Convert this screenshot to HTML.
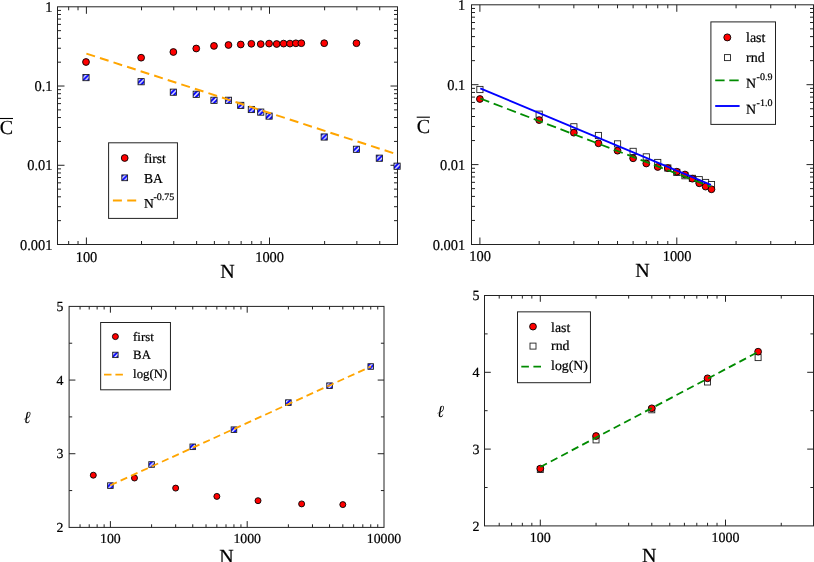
<!DOCTYPE html><html><head><meta charset="utf-8"><style>html,body{margin:0;padding:0;background:#fff;overflow:hidden}svg{display:block}text{font-family:"Liberation Serif",serif;fill:#000;stroke:#000;stroke-width:0.22px;text-rendering:geometricPrecision}svg{transform:translateZ(0)}</style></head><body>
<svg width="814" height="562" viewBox="0 0 814 562">
<defs><pattern id="hp1" patternUnits="userSpaceOnUse" width="4.8" height="4.8"><rect width="4.8" height="4.8" fill="#00f"/><path d="M-0.20 -2L-2 -0.20M4.60 -2L-2 4.60M9.40 -2L-2 9.40M14.20 -2L-2 14.20" stroke="#fff" stroke-width="1.3"/></pattern><pattern id="hp3" patternUnits="userSpaceOnUse" width="4.8" height="4.8"><rect width="4.8" height="4.8" fill="#00f"/><path d="M-1.10 -2L-2 -1.10M3.70 -2L-2 3.70M8.50 -2L-2 8.50M13.30 -2L-2 13.30" stroke="#fff" stroke-width="1.3"/></pattern></defs>
<rect x="57.5" y="6.8" width="340" height="237.7" fill="none" stroke="#222" stroke-width="1.0"/>
<path d="M86.4 244.5v-7M86.4 6.8v7M269.5 244.5v-7M269.5 6.8v7M68.66 244.5v-3.5M68.66 6.8v3.5M78.02 244.5v-3.5M78.02 6.8v3.5M141.52 244.5v-3.5M141.52 6.8v3.5M173.76 244.5v-3.5M173.76 6.8v3.5M196.64 244.5v-3.5M196.64 6.8v3.5M214.38 244.5v-3.5M214.38 6.8v3.5M228.88 244.5v-3.5M228.88 6.8v3.5M241.14 244.5v-3.5M241.14 6.8v3.5M251.76 244.5v-3.5M251.76 6.8v3.5M261.12 244.5v-3.5M261.12 6.8v3.5M324.62 244.5v-3.5M324.62 6.8v3.5M356.86 244.5v-3.5M356.86 6.8v3.5M379.74 244.5v-3.5M379.74 6.8v3.5" stroke="#222" stroke-width="1.0" fill="none"/>
<path d="M57.5 86.03h7M397.5 86.03h-7M57.5 165.27h7M397.5 165.27h-7M57.5 220.65h3.5M397.5 220.65h-3.5M57.5 206.7h3.5M397.5 206.7h-3.5M57.5 196.8h3.5M397.5 196.8h-3.5M57.5 189.12h3.5M397.5 189.12h-3.5M57.5 182.84h3.5M397.5 182.84h-3.5M57.5 177.54h3.5M397.5 177.54h-3.5M57.5 172.95h3.5M397.5 172.95h-3.5M57.5 168.89h3.5M397.5 168.89h-3.5M57.5 141.42h3.5M397.5 141.42h-3.5M57.5 127.46h3.5M397.5 127.46h-3.5M57.5 117.56h3.5M397.5 117.56h-3.5M57.5 109.88h3.5M397.5 109.88h-3.5M57.5 103.61h3.5M397.5 103.61h-3.5M57.5 98.31h3.5M397.5 98.31h-3.5M57.5 93.71h3.5M397.5 93.71h-3.5M57.5 89.66h3.5M397.5 89.66h-3.5M57.5 62.18h3.5M397.5 62.18h-3.5M57.5 48.23h3.5M397.5 48.23h-3.5M57.5 38.33h3.5M397.5 38.33h-3.5M57.5 30.65h3.5M397.5 30.65h-3.5M57.5 24.38h3.5M397.5 24.38h-3.5M57.5 19.07h3.5M397.5 19.07h-3.5M57.5 14.48h3.5M397.5 14.48h-3.5M57.5 10.43h3.5M397.5 10.43h-3.5" stroke="#222" stroke-width="1.0" fill="none"/>
<text transform="translate(86.5 261.5) scale(0.97 1)" font-size="14.9" text-anchor="middle" >100</text>
<text transform="translate(269.6 261.5) scale(0.97 1)" font-size="14.9" text-anchor="middle" >1000</text>
<text transform="translate(52.5 11.9) scale(0.97 1)" font-size="14.9" text-anchor="end" >1</text>
<text transform="translate(52.5 91.13) scale(0.97 1)" font-size="14.9" text-anchor="end" >0.1</text>
<text transform="translate(52.5 170.37) scale(0.97 1)" font-size="14.9" text-anchor="end" >0.01</text>
<text transform="translate(52.5 249.6) scale(0.97 1)" font-size="14.9" text-anchor="end" >0.001</text>
<text x="227.6" y="277.8" font-size="20" text-anchor="middle" >N</text>
<text x="6.3" y="133.6" font-size="20" text-anchor="middle" >C</text>
<line x1="0" y1="118.5" x2="13" y2="118.5" stroke="#000" stroke-width="1.1"/>
<circle cx="86" cy="62" r="3.4" fill="#f00" stroke="#000" stroke-width="0.9"/>
<circle cx="141.12" cy="57.7" r="3.4" fill="#f00" stroke="#000" stroke-width="0.9"/>
<circle cx="173.36" cy="52" r="3.4" fill="#f00" stroke="#000" stroke-width="0.9"/>
<circle cx="196.24" cy="48.5" r="3.4" fill="#f00" stroke="#000" stroke-width="0.9"/>
<circle cx="213.98" cy="45.9" r="3.4" fill="#f00" stroke="#000" stroke-width="0.9"/>
<circle cx="228.48" cy="45" r="3.4" fill="#f00" stroke="#000" stroke-width="0.9"/>
<circle cx="240.74" cy="44.5" r="3.4" fill="#f00" stroke="#000" stroke-width="0.9"/>
<circle cx="251.36" cy="43.8" r="3.4" fill="#f00" stroke="#000" stroke-width="0.9"/>
<circle cx="260.72" cy="44.1" r="3.4" fill="#f00" stroke="#000" stroke-width="0.9"/>
<circle cx="269.1" cy="43.6" r="3.4" fill="#f00" stroke="#000" stroke-width="0.9"/>
<circle cx="276.68" cy="44" r="3.4" fill="#f00" stroke="#000" stroke-width="0.9"/>
<circle cx="283.6" cy="43.6" r="3.4" fill="#f00" stroke="#000" stroke-width="0.9"/>
<circle cx="289.96" cy="43.6" r="3.4" fill="#f00" stroke="#000" stroke-width="0.9"/>
<circle cx="295.86" cy="43.3" r="3.4" fill="#f00" stroke="#000" stroke-width="0.9"/>
<circle cx="301.34" cy="43.2" r="3.4" fill="#f00" stroke="#000" stroke-width="0.9"/>
<circle cx="324.22" cy="43.2" r="3.4" fill="#f00" stroke="#000" stroke-width="0.9"/>
<circle cx="356.46" cy="43.2" r="3.4" fill="#f00" stroke="#000" stroke-width="0.9"/>
<rect x="82.9" y="74.5" width="6.2" height="6.2" fill="url(#hp1)" stroke="#1a1a1a" stroke-width="0.85"/>
<rect x="138.02" y="78.6" width="6.2" height="6.2" fill="url(#hp1)" stroke="#1a1a1a" stroke-width="0.85"/>
<rect x="170.26" y="89.1" width="6.2" height="6.2" fill="url(#hp1)" stroke="#1a1a1a" stroke-width="0.85"/>
<rect x="193.14" y="91.2" width="6.2" height="6.2" fill="url(#hp1)" stroke="#1a1a1a" stroke-width="0.85"/>
<rect x="210.88" y="97.2" width="6.2" height="6.2" fill="url(#hp1)" stroke="#1a1a1a" stroke-width="0.85"/>
<rect x="225.38" y="97.2" width="6.2" height="6.2" fill="url(#hp1)" stroke="#1a1a1a" stroke-width="0.85"/>
<rect x="237.64" y="102.3" width="6.2" height="6.2" fill="url(#hp1)" stroke="#1a1a1a" stroke-width="0.85"/>
<rect x="248.26" y="106.4" width="6.2" height="6.2" fill="url(#hp1)" stroke="#1a1a1a" stroke-width="0.85"/>
<rect x="257.62" y="109" width="6.2" height="6.2" fill="url(#hp1)" stroke="#1a1a1a" stroke-width="0.85"/>
<rect x="266" y="113" width="6.2" height="6.2" fill="url(#hp1)" stroke="#1a1a1a" stroke-width="0.85"/>
<rect x="321.12" y="133.9" width="6.2" height="6.2" fill="url(#hp1)" stroke="#1a1a1a" stroke-width="0.85"/>
<rect x="353.36" y="146.2" width="6.2" height="6.2" fill="url(#hp1)" stroke="#1a1a1a" stroke-width="0.85"/>
<rect x="376.24" y="155.1" width="6.2" height="6.2" fill="url(#hp1)" stroke="#1a1a1a" stroke-width="0.85"/>
<rect x="393.98" y="163.1" width="6.2" height="6.2" fill="url(#hp1)" stroke="#1a1a1a" stroke-width="0.85"/>
<line x1="86.4" y1="53.6" x2="397" y2="154.3" stroke="#ffa500" stroke-width="2.0" stroke-dasharray="9.05 5.2"/>
<rect x="108.6" y="142.8" width="68.85" height="75.6" fill="#fff" stroke="#222" stroke-width="1"/>
<circle cx="124.7" cy="158" r="3.4" fill="#f00" stroke="#000" stroke-width="0.9"/>
<rect x="121.8" y="174.9" width="5.8" height="5.8" fill="url(#hp1)" stroke="#1a1a1a" stroke-width="0.85"/>
<line x1="112.9" y1="200.5" x2="136.3" y2="200.5" stroke="#ffa500" stroke-width="1.9" stroke-dasharray="9 5.3"/>
<text x="143.9" y="163" font-size="13.6" text-anchor="start" >first</text>
<text x="143.9" y="182.6" font-size="13.6" text-anchor="start" >BA</text>
<text x="143.9" y="208.4" font-size="13.6" text-anchor="start" >N</text>
<text x="153.5" y="200" font-size="10" text-anchor="start" >-0.75</text>
<rect x="471.5" y="4.8" width="342" height="239.7" fill="none" stroke="#222" stroke-width="1.0"/>
<path d="M479.9 244.5v-7M479.9 4.8v7M676.8 244.5v-7M676.8 4.8v7M539.17 244.5v-3.5M539.17 4.8v3.5M573.85 244.5v-3.5M573.85 4.8v3.5M598.45 244.5v-3.5M598.45 4.8v3.5M617.53 244.5v-3.5M617.53 4.8v3.5M633.12 244.5v-3.5M633.12 4.8v3.5M646.3 244.5v-3.5M646.3 4.8v3.5M657.72 244.5v-3.5M657.72 4.8v3.5M667.79 244.5v-3.5M667.79 4.8v3.5M736.07 244.5v-3.5M736.07 4.8v3.5M770.75 244.5v-3.5M770.75 4.8v3.5M795.35 244.5v-3.5M795.35 4.8v3.5" stroke="#222" stroke-width="1.0" fill="none"/>
<path d="M471.5 84.7h7M813.5 84.7h-7M471.5 164.6h7M813.5 164.6h-7M471.5 220.45h3.5M813.5 220.45h-3.5M471.5 206.38h3.5M813.5 206.38h-3.5M471.5 196.4h3.5M813.5 196.4h-3.5M471.5 188.65h3.5M813.5 188.65h-3.5M471.5 182.33h3.5M813.5 182.33h-3.5M471.5 176.98h3.5M813.5 176.98h-3.5M471.5 172.34h3.5M813.5 172.34h-3.5M471.5 168.26h3.5M813.5 168.26h-3.5M471.5 140.55h3.5M813.5 140.55h-3.5M471.5 126.48h3.5M813.5 126.48h-3.5M471.5 116.5h3.5M813.5 116.5h-3.5M471.5 108.75h3.5M813.5 108.75h-3.5M471.5 102.43h3.5M813.5 102.43h-3.5M471.5 97.08h3.5M813.5 97.08h-3.5M471.5 92.44h3.5M813.5 92.44h-3.5M471.5 88.36h3.5M813.5 88.36h-3.5M471.5 60.65h3.5M813.5 60.65h-3.5M471.5 46.58h3.5M813.5 46.58h-3.5M471.5 36.6h3.5M813.5 36.6h-3.5M471.5 28.85h3.5M813.5 28.85h-3.5M471.5 22.53h3.5M813.5 22.53h-3.5M471.5 17.18h3.5M813.5 17.18h-3.5M471.5 12.54h3.5M813.5 12.54h-3.5M471.5 8.46h3.5M813.5 8.46h-3.5" stroke="#222" stroke-width="1.0" fill="none"/>
<text transform="translate(480.2 261.2) scale(0.97 1)" font-size="14.9" text-anchor="middle" >100</text>
<text transform="translate(677.1 261.2) scale(0.97 1)" font-size="14.9" text-anchor="middle" >1000</text>
<text transform="translate(465.3 9.9) scale(0.97 1)" font-size="14.9" text-anchor="end" >1</text>
<text transform="translate(465.3 89.8) scale(0.97 1)" font-size="14.9" text-anchor="end" >0.1</text>
<text transform="translate(465.3 169.7) scale(0.97 1)" font-size="14.9" text-anchor="end" >0.01</text>
<text transform="translate(465.3 249.6) scale(0.97 1)" font-size="14.9" text-anchor="end" >0.001</text>
<text x="642.6" y="276.9" font-size="20" text-anchor="middle" >N</text>
<text x="423.3" y="132.6" font-size="20" text-anchor="middle" >C</text>
<line x1="416.7" y1="117.2" x2="429.9" y2="117.2" stroke="#000" stroke-width="1.1"/>
<rect x="476.8" y="86.4" width="6.2" height="6.2" fill="#fff" stroke="#222" stroke-width="0.9"/>
<rect x="536.07" y="111.1" width="6.2" height="6.2" fill="#fff" stroke="#222" stroke-width="0.9"/>
<rect x="570.75" y="123.7" width="6.2" height="6.2" fill="#fff" stroke="#222" stroke-width="0.9"/>
<rect x="595.35" y="132.4" width="6.2" height="6.2" fill="#fff" stroke="#222" stroke-width="0.9"/>
<rect x="614.43" y="140.8" width="6.2" height="6.2" fill="#fff" stroke="#222" stroke-width="0.9"/>
<rect x="630.02" y="148.3" width="6.2" height="6.2" fill="#fff" stroke="#222" stroke-width="0.9"/>
<rect x="643.2" y="153.8" width="6.2" height="6.2" fill="#fff" stroke="#222" stroke-width="0.9"/>
<rect x="654.62" y="159.4" width="6.2" height="6.2" fill="#fff" stroke="#222" stroke-width="0.9"/>
<rect x="664.69" y="164.9" width="6.2" height="6.2" fill="#fff" stroke="#222" stroke-width="0.9"/>
<rect x="673.7" y="169.3" width="6.2" height="6.2" fill="#fff" stroke="#222" stroke-width="0.9"/>
<rect x="681.85" y="172.6" width="6.2" height="6.2" fill="#fff" stroke="#222" stroke-width="0.9"/>
<rect x="689.29" y="175.3" width="6.2" height="6.2" fill="#fff" stroke="#222" stroke-width="0.9"/>
<rect x="696.14" y="176.6" width="6.2" height="6.2" fill="#fff" stroke="#222" stroke-width="0.9"/>
<rect x="702.47" y="179.4" width="6.2" height="6.2" fill="#fff" stroke="#222" stroke-width="0.9"/>
<rect x="708.37" y="181.5" width="6.2" height="6.2" fill="#fff" stroke="#222" stroke-width="0.9"/>
<circle cx="479.9" cy="99" r="3.4" fill="#f00" stroke="#000" stroke-width="0.9"/>
<circle cx="539.17" cy="120.1" r="3.4" fill="#f00" stroke="#000" stroke-width="0.9"/>
<circle cx="573.85" cy="132.7" r="3.4" fill="#f00" stroke="#000" stroke-width="0.9"/>
<circle cx="598.45" cy="143.3" r="3.4" fill="#f00" stroke="#000" stroke-width="0.9"/>
<circle cx="617.53" cy="150.7" r="3.4" fill="#f00" stroke="#000" stroke-width="0.9"/>
<circle cx="633.12" cy="158.3" r="3.4" fill="#f00" stroke="#000" stroke-width="0.9"/>
<circle cx="646.3" cy="163.5" r="3.4" fill="#f00" stroke="#000" stroke-width="0.9"/>
<circle cx="657.72" cy="167" r="3.4" fill="#f00" stroke="#000" stroke-width="0.9"/>
<circle cx="667.79" cy="168.1" r="3.4" fill="#f00" stroke="#000" stroke-width="0.9"/>
<circle cx="676.8" cy="171.7" r="3.4" fill="#f00" stroke="#000" stroke-width="0.9"/>
<circle cx="684.95" cy="174.5" r="3.4" fill="#f00" stroke="#000" stroke-width="0.9"/>
<circle cx="692.39" cy="178.7" r="3.4" fill="#f00" stroke="#000" stroke-width="0.9"/>
<circle cx="699.24" cy="183.3" r="3.4" fill="#f00" stroke="#000" stroke-width="0.9"/>
<circle cx="705.57" cy="186.6" r="3.4" fill="#f00" stroke="#000" stroke-width="0.9"/>
<circle cx="711.47" cy="189.3" r="3.4" fill="#f00" stroke="#000" stroke-width="0.9"/>
<line x1="480.3" y1="98.5" x2="710.9" y2="186.7" stroke="#008b00" stroke-width="1.8" stroke-dasharray="9.5 4.8"/>
<line x1="480.3" y1="88.4" x2="710.9" y2="184.9" stroke="#0000ff" stroke-width="1.9"/>
<rect x="710.9" y="21.9" width="64.6" height="102.5" fill="#fff" stroke="#222" stroke-width="1"/>
<circle cx="727.3" cy="37.4" r="3.5" fill="#f00" stroke="#000" stroke-width="0.9"/>
<rect x="724.5" y="54.6" width="6" height="6" fill="#fff" stroke="#222" stroke-width="0.9"/>
<line x1="715.2" y1="80.3" x2="738.9" y2="80.3" stroke="#008b00" stroke-width="1.8" stroke-dasharray="9.4 4.7"/>
<line x1="715.2" y1="106" x2="739.6" y2="106" stroke="#0000ff" stroke-width="1.9"/>
<text x="746" y="41.9" font-size="14" text-anchor="start" >last</text>
<text x="746" y="61.7" font-size="14" text-anchor="start" >rnd</text>
<text x="746" y="88.3" font-size="14" text-anchor="start" >N</text>
<text x="756.6" y="80.1" font-size="10" text-anchor="start" >-0.9</text>
<text x="746" y="113.9" font-size="14" text-anchor="start" >N</text>
<text x="756.6" y="105.8" font-size="10" text-anchor="start" >-1.0</text>
<rect x="69.1" y="306.4" width="314.9" height="221" fill="none" stroke="#222" stroke-width="1.0"/>
<path d="M110.4 527.4v-6.3M110.4 306.4v6.3M247.2 527.4v-6.3M247.2 306.4v6.3M80.05 527.4v-3.1M80.05 306.4v3.1M89.21 527.4v-3.1M89.21 306.4v3.1M97.14 527.4v-3.1M97.14 306.4v3.1M104.14 527.4v-3.1M104.14 306.4v3.1M151.58 527.4v-3.1M151.58 306.4v3.1M175.67 527.4v-3.1M175.67 306.4v3.1M192.76 527.4v-3.1M192.76 306.4v3.1M206.02 527.4v-3.1M206.02 306.4v3.1M216.85 527.4v-3.1M216.85 306.4v3.1M226.01 527.4v-3.1M226.01 306.4v3.1M233.94 527.4v-3.1M233.94 306.4v3.1M240.94 527.4v-3.1M240.94 306.4v3.1M288.38 527.4v-3.1M288.38 306.4v3.1M312.47 527.4v-3.1M312.47 306.4v3.1M329.56 527.4v-3.1M329.56 306.4v3.1M342.82 527.4v-3.1M342.82 306.4v3.1M353.65 527.4v-3.1M353.65 306.4v3.1M362.81 527.4v-3.1M362.81 306.4v3.1M370.74 527.4v-3.1M370.74 306.4v3.1M377.74 527.4v-3.1M377.74 306.4v3.1" stroke="#222" stroke-width="1.0" fill="none"/>
<path d="M69.1 453.73h6.3M384 453.73h-6.3M69.1 380.07h6.3M384 380.07h-6.3M69.1 490.57h3.1M384 490.57h-3.1M69.1 416.9h3.1M384 416.9h-3.1M69.1 343.23h3.1M384 343.23h-3.1" stroke="#222" stroke-width="1.0" fill="none"/>
<text x="110.4" y="542.8" font-size="13.8" text-anchor="middle" >100</text>
<text x="247.2" y="542.8" font-size="13.8" text-anchor="middle" >1000</text>
<text x="384" y="542.8" font-size="13.8" text-anchor="middle" >10000</text>
<text x="63.5" y="532.1" font-size="13.8" text-anchor="end" >2</text>
<text x="63.5" y="458.43" font-size="13.8" text-anchor="end" >3</text>
<text x="63.5" y="384.77" font-size="13.8" text-anchor="end" >4</text>
<text x="63.5" y="311.1" font-size="13.8" text-anchor="end" >5</text>
<text x="226.6" y="563.2" font-size="20" text-anchor="middle" >N</text>
<text x="27" y="423" font-size="17" text-anchor="middle" font-style="italic" style="stroke-width:0">&#8467;</text>
<circle cx="93.31" cy="475.2" r="3.0" fill="#f00" stroke="#000" stroke-width="0.9"/>
<circle cx="134.49" cy="478" r="3.0" fill="#f00" stroke="#000" stroke-width="0.9"/>
<circle cx="175.67" cy="488.1" r="3.0" fill="#f00" stroke="#000" stroke-width="0.9"/>
<circle cx="216.85" cy="496.4" r="3.0" fill="#f00" stroke="#000" stroke-width="0.9"/>
<circle cx="258.03" cy="500.7" r="3.0" fill="#f00" stroke="#000" stroke-width="0.9"/>
<circle cx="301.64" cy="503.9" r="3.0" fill="#f00" stroke="#000" stroke-width="0.9"/>
<circle cx="342.82" cy="504.6" r="3.0" fill="#f00" stroke="#000" stroke-width="0.9"/>
<rect x="107.6" y="482.8" width="5.6" height="5.6" fill="url(#hp3)" stroke="#1a1a1a" stroke-width="0.85"/>
<rect x="148.78" y="461.7" width="5.6" height="5.6" fill="url(#hp3)" stroke="#1a1a1a" stroke-width="0.85"/>
<rect x="189.96" y="444" width="5.6" height="5.6" fill="url(#hp3)" stroke="#1a1a1a" stroke-width="0.85"/>
<rect x="231.14" y="426.9" width="5.6" height="5.6" fill="url(#hp3)" stroke="#1a1a1a" stroke-width="0.85"/>
<rect x="285.58" y="399.8" width="5.6" height="5.6" fill="url(#hp3)" stroke="#1a1a1a" stroke-width="0.85"/>
<rect x="326.76" y="382.9" width="5.6" height="5.6" fill="url(#hp3)" stroke="#1a1a1a" stroke-width="0.85"/>
<rect x="367.94" y="363.7" width="5.6" height="5.6" fill="url(#hp3)" stroke="#1a1a1a" stroke-width="0.85"/>
<line x1="110.3" y1="485.3" x2="371" y2="366.5" stroke="#ffa500" stroke-width="1.8" stroke-dasharray="7.2 4.15"/>
<rect x="100.65" y="322.5" width="69.8" height="67.3" fill="#fff" stroke="#222" stroke-width="1"/>
<circle cx="115.4" cy="336.6" r="3.0" fill="#f00" stroke="#000" stroke-width="0.9"/>
<rect x="112.7" y="352.2" width="5.4" height="5.4" fill="url(#hp3)" stroke="#1a1a1a" stroke-width="0.85"/>
<line x1="104" y1="374.7" x2="122.9" y2="374.7" stroke="#ffa500" stroke-width="1.8" stroke-dasharray="7.5 3.9"/>
<text x="133.1" y="341" font-size="12.8" text-anchor="start" >first</text>
<text x="133.1" y="358.8" font-size="12.8" text-anchor="start" >BA</text>
<text x="133.1" y="377.6" font-size="12.8" text-anchor="start" >log(N)</text>
<rect x="484.5" y="295.5" width="329" height="230.4" fill="none" stroke="#222" stroke-width="1.0"/>
<path d="M540.3 525.9v-6.3M540.3 295.5v6.3M725.5 525.9v-6.3M725.5 295.5v6.3M499.21 525.9v-3.1M499.21 295.5v3.1M511.61 525.9v-3.1M511.61 295.5v3.1M522.35 525.9v-3.1M522.35 295.5v3.1M531.83 525.9v-3.1M531.83 295.5v3.1M596.05 525.9v-3.1M596.05 295.5v3.1M628.66 525.9v-3.1M628.66 295.5v3.1M651.8 525.9v-3.1M651.8 295.5v3.1M669.75 525.9v-3.1M669.75 295.5v3.1M684.41 525.9v-3.1M684.41 295.5v3.1M696.81 525.9v-3.1M696.81 295.5v3.1M707.55 525.9v-3.1M707.55 295.5v3.1M717.03 525.9v-3.1M717.03 295.5v3.1M781.25 525.9v-3.1M781.25 295.5v3.1" stroke="#222" stroke-width="1.0" fill="none"/>
<path d="M484.5 449.1h6.3M813.5 449.1h-6.3M484.5 372.3h6.3M813.5 372.3h-6.3M484.5 487.5h3.1M813.5 487.5h-3.1M484.5 410.7h3.1M813.5 410.7h-3.1M484.5 333.9h3.1M813.5 333.9h-3.1" stroke="#222" stroke-width="1.0" fill="none"/>
<text x="540.3" y="542" font-size="14" text-anchor="middle" >100</text>
<text x="725.5" y="542" font-size="14" text-anchor="middle" >1000</text>
<text x="479.6" y="530.6" font-size="14" text-anchor="end" >2</text>
<text x="479.6" y="453.8" font-size="14" text-anchor="end" >3</text>
<text x="479.6" y="377" font-size="14" text-anchor="end" >4</text>
<text x="479.6" y="300.2" font-size="14" text-anchor="end" >5</text>
<text x="649.3" y="562" font-size="20" text-anchor="middle" >N</text>
<text x="440.5" y="417.4" font-size="17" text-anchor="middle" font-style="italic" style="stroke-width:0">&#8467;</text>
<rect x="537.3" y="466.5" width="6" height="6" fill="#fff" stroke="#222" stroke-width="0.9"/>
<rect x="593.05" y="436.9" width="6" height="6" fill="#fff" stroke="#222" stroke-width="0.9"/>
<rect x="648.8" y="406.8" width="6" height="6" fill="#fff" stroke="#222" stroke-width="0.9"/>
<rect x="704.55" y="379" width="6" height="6" fill="#fff" stroke="#222" stroke-width="0.9"/>
<rect x="755.11" y="354.6" width="6" height="6" fill="#fff" stroke="#222" stroke-width="0.9"/>
<circle cx="540.3" cy="468.6" r="3.4" fill="#f00" stroke="#000" stroke-width="0.9"/>
<circle cx="596.05" cy="436" r="3.4" fill="#f00" stroke="#000" stroke-width="0.9"/>
<circle cx="651.8" cy="408.3" r="3.4" fill="#f00" stroke="#000" stroke-width="0.9"/>
<circle cx="707.55" cy="378.3" r="3.4" fill="#f00" stroke="#000" stroke-width="0.9"/>
<circle cx="758.11" cy="351.7" r="3.4" fill="#f00" stroke="#000" stroke-width="0.9"/>
<line x1="540.3" y1="467" x2="757.1" y2="352.5" stroke="#008b00" stroke-width="1.8" stroke-dasharray="7.5 4.35"/>
<rect x="517.5" y="311.85" width="72.95" height="70.85" fill="#fff" stroke="#222" stroke-width="1"/>
<circle cx="533" cy="326.6" r="3.4" fill="#f00" stroke="#000" stroke-width="0.9"/>
<rect x="530" y="343.1" width="6" height="6" fill="#fff" stroke="#222" stroke-width="0.9"/>
<line x1="521.3" y1="366.6" x2="541" y2="366.6" stroke="#008b00" stroke-width="1.8" stroke-dasharray="7.6 4.5"/>
<text x="551.1" y="331.5" font-size="13.8" text-anchor="start" >last</text>
<text x="551.1" y="350.4" font-size="13.8" text-anchor="start" >rnd</text>
<text x="551.1" y="370.3" font-size="13.8" text-anchor="start" >log(N)</text>
</svg></body></html>
